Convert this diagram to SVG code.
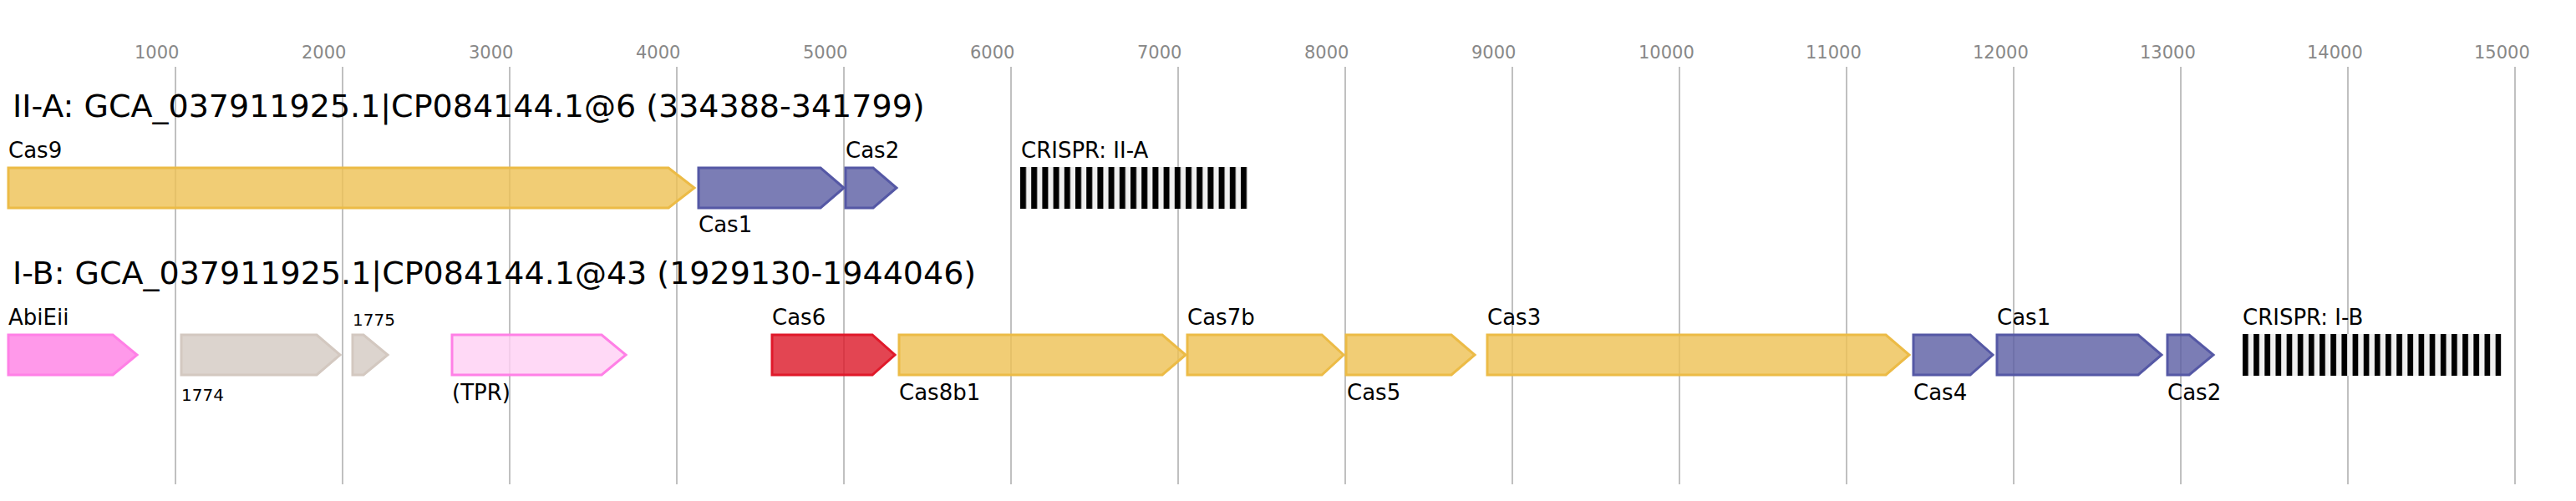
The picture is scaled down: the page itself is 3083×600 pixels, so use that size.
<svg xmlns="http://www.w3.org/2000/svg" width="3083" height="600" viewBox="0 0 3083 600">
<style>
text{font-family:"DejaVu Sans",sans-serif;fill:#000}
.tick{font-size:21px;fill:#888}
.title{font-size:38px}
.lbl{font-size:26px}
.sm{font-size:20px}
.grid{stroke:#c0c0c0;stroke-width:2}
.gene{stroke-width:3;fill-opacity:0.8}
.y{fill:#eec053;stroke:#ecbb46}
.b{fill:#5a5ca2;stroke:#5558a5}
.r{fill:#dc1727;stroke:#e0192a}
.g{fill:#d3c9c2;stroke:#d3c8c0}
.p{fill:#ff80e5;stroke:#ff80e6}
.lp{fill:#ffd0f4;stroke:#ff80e6}
.arr{fill:#f0f0f0}
</style>
<defs>
<pattern id="rep1" x="1221" y="0" width="13.2" height="50" patternUnits="userSpaceOnUse">
<rect x="0" y="0" width="7" height="600" fill="#000"/>
</pattern>
<pattern id="rep2" x="2684" y="0" width="13.16" height="50" patternUnits="userSpaceOnUse">
<rect x="0" y="0" width="6.7" height="600" fill="#000"/>
</pattern>
</defs>
<rect width="3083" height="600" fill="#fff"/>
<g id="axis">
<g class="grid">
<line x1="210" y1="80" x2="210" y2="580"/>
<line x1="410" y1="80" x2="410" y2="580"/>
<line x1="610" y1="80" x2="610" y2="580"/>
<line x1="810" y1="80" x2="810" y2="580"/>
<line x1="1010" y1="80" x2="1010" y2="580"/>
<line x1="1210" y1="80" x2="1210" y2="580"/>
<line x1="1410" y1="80" x2="1410" y2="580"/>
<line x1="1610" y1="80" x2="1610" y2="580"/>
<line x1="1810" y1="80" x2="1810" y2="580"/>
<line x1="2010" y1="80" x2="2010" y2="580"/>
<line x1="2210" y1="80" x2="2210" y2="580"/>
<line x1="2410" y1="80" x2="2410" y2="580"/>
<line x1="2610" y1="80" x2="2610" y2="580"/>
<line x1="2810" y1="80" x2="2810" y2="580"/>
<line x1="3010" y1="80" x2="3010" y2="580"/>
</g>
<text class="tick" x="161" y="70">1000</text>
<text class="tick" x="361" y="70">2000</text>
<text class="tick" x="561" y="70">3000</text>
<text class="tick" x="761" y="70">4000</text>
<text class="tick" x="961" y="70">5000</text>
<text class="tick" x="1161" y="70">6000</text>
<text class="tick" x="1361" y="70">7000</text>
<text class="tick" x="1561" y="70">8000</text>
<text class="tick" x="1761" y="70">9000</text>
<text class="tick" x="1961" y="70">10000</text>
<text class="tick" x="2161" y="70">11000</text>
<text class="tick" x="2361" y="70">12000</text>
<text class="tick" x="2561" y="70">13000</text>
<text class="tick" x="2761" y="70">14000</text>
<text class="tick" x="2961" y="70">15000</text>
</g>
<g id="connectors"></g>
<text class="title" x="15" y="140">II-A: GCA_037911925.1|CP084144.1@6 (334388-341799)</text>
<g id="IIA_Cas9"><polygon class="gene y" points="10,201 800,201 831,225 800,249 10,249"/><text class="lbl" x="10" y="189">Cas9</text></g>
<g id="IIA_Cas1"><polygon class="gene b" points="836,201 982,201 1010,225 982,249 836,249"/><text class="lbl" x="836" y="278">Cas1</text></g>
<g id="IIA_Cas2"><polygon class="gene b" points="1012,201 1045,201 1073,225 1045,249 1012,249"/><text class="lbl" x="1012" y="189">Cas2</text></g>
<g id="IIA_CRISPR"><rect class="arr" x="1221" y="200" width="272" height="50"/><rect x="1221" y="200" width="272" height="50" fill="url(#rep1)"/><text class="lbl" x="1222" y="189">CRISPR: II-A</text></g>
<text class="title" x="15" y="340">I-B: GCA_037911925.1|CP084144.1@43 (1929130-1944046)</text>
<g id="IB_AbiEii"><polygon class="gene p" points="10,401 135,401 164,425 135,449 10,449"/><text class="lbl" x="10" y="389">AbiEii</text></g>
<g id="IB_1774"><polygon class="gene g" points="217,401 379,401 407,425 379,449 217,449"/><text class="sm" x="217" y="480">1774</text></g>
<g id="IB_1775"><polygon class="gene g" points="422,401 435,401 464,425 435,449 422,449"/><text class="sm" x="422" y="390">1775</text></g>
<g id="IB_TPR"><polygon class="gene lp" points="541,401 720,401 749,425 720,449 541,449"/><text class="lbl" x="541" y="479">(TPR)</text></g>
<g id="IB_Cas6"><polygon class="gene r" points="924,401 1044,401 1071,425 1044,449 924,449"/><text class="lbl" x="924" y="389">Cas6</text></g>
<g id="IB_Cas8b1"><polygon class="gene y" points="1076,401 1391,401 1419,425 1391,449 1076,449"/><text class="lbl" x="1076" y="479">Cas8b1</text></g>
<g id="IB_Cas7b"><polygon class="gene y" points="1421,401 1582,401 1608,425 1582,449 1421,449"/><text class="lbl" x="1421" y="389">Cas7b</text></g>
<g id="IB_Cas5"><polygon class="gene y" points="1611,401 1737,401 1765,425 1737,449 1611,449"/><text class="lbl" x="1612" y="479">Cas5</text></g>
<g id="IB_Cas3"><polygon class="gene y" points="1780,401 2257,401 2285,425 2257,449 1780,449"/><text class="lbl" x="1780" y="389">Cas3</text></g>
<g id="IB_Cas4"><polygon class="gene b" points="2290,401 2358,401 2385,425 2358,449 2290,449"/><text class="lbl" x="2290" y="479">Cas4</text></g>
<g id="IB_Cas1"><polygon class="gene b" points="2390,401 2559,401 2587,425 2559,449 2390,449"/><text class="lbl" x="2390" y="389">Cas1</text></g>
<g id="IB_Cas2"><polygon class="gene b" points="2594,401 2620,401 2649,425 2620,449 2594,449"/><text class="lbl" x="2594" y="479">Cas2</text></g>
<g id="IB_CRISPR"><rect class="arr" x="2684" y="400" width="309.5" height="50"/><rect x="2684" y="400" width="309.5" height="50" fill="url(#rep2)"/><text class="lbl" x="2684" y="389">CRISPR: I-B</text></g>
</svg>
